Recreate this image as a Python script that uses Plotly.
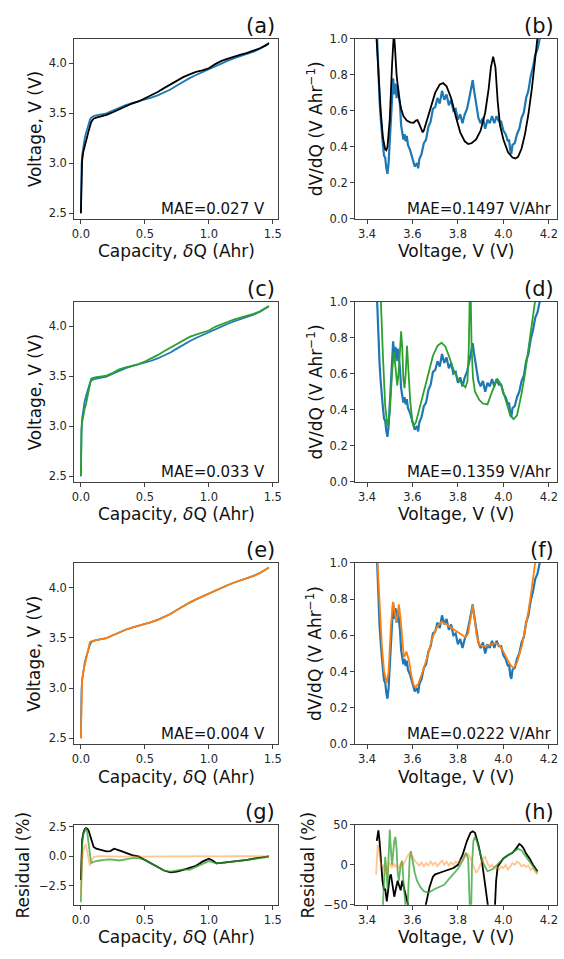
import plotly.graph_objects as go

# ---------------- data ----------------
Q = [0, 0.002, 0.005, 0.01, 0.02, 0.03, 0.04, 0.05, 0.06, 0.07, 0.08, 0.09, 0.10, 0.12, 0.15,
     0.20, 0.25, 0.30, 0.35, 0.40, 0.45, 0.50, 0.55, 0.60, 0.65, 0.70, 0.75, 0.80, 0.85, 0.90,
     0.95, 1.00, 1.05, 1.10, 1.15, 1.20, 1.25, 1.30, 1.35, 1.40, 1.45, 1.47]
V_meas = [2.50, 2.80, 2.98, 3.08, 3.18, 3.25, 3.30, 3.35, 3.39, 3.43, 3.455, 3.465, 3.47, 3.477, 3.485,
          3.497, 3.525, 3.556, 3.58, 3.60, 3.617, 3.635, 3.655, 3.678, 3.705, 3.737, 3.776, 3.816, 3.85, 3.882,
          3.912, 3.941, 3.97, 4.0, 4.025, 4.05, 4.07, 4.09, 4.115, 4.145, 4.18, 4.20]
V_black = [2.50, 2.70, 2.90, 3.03, 3.12, 3.18, 3.22, 3.27, 3.32, 3.37, 3.41, 3.43, 3.445, 3.455, 3.466,
           3.482, 3.509, 3.54, 3.57, 3.596, 3.617, 3.646, 3.677, 3.711, 3.75, 3.787, 3.825, 3.86, 3.888, 3.913,
           3.928, 3.949, 3.99, 4.022, 4.045, 4.068, 4.086, 4.102, 4.123, 4.149, 4.18, 4.20]
V_green = [2.50, 2.82, 2.96, 3.04, 3.12, 3.18, 3.22, 3.29, 3.36, 3.44, 3.475, 3.482, 3.486, 3.49, 3.497,
           3.507, 3.534, 3.568, 3.589, 3.605, 3.622, 3.646, 3.677, 3.711, 3.75, 3.786, 3.821, 3.858, 3.894, 3.917,
           3.935, 3.957, 3.994, 4.022, 4.045, 4.068, 4.086, 4.102, 4.123, 4.149, 4.182, 4.202]
V_orange = [2.50, 2.78, 2.99, 3.09, 3.17, 3.23, 3.27, 3.34, 3.405, 3.455, 3.466, 3.47, 3.472, 3.477, 3.485,
            3.497, 3.525, 3.556, 3.58, 3.60, 3.617, 3.635, 3.655, 3.678, 3.705, 3.737, 3.776, 3.816, 3.85, 3.882,
            3.912, 3.941, 3.97, 4.0, 4.025, 4.05, 4.07, 4.09, 4.115, 4.145, 4.18, 4.20]

# measured dV/dQ (noisy)
dV_meas_x = [3.440, 3.445, 3.450, 3.455, 3.460, 3.465, 3.470, 3.475, 3.480, 3.485, 3.490, 3.495, 3.500,
             3.505, 3.510, 3.515, 3.520, 3.525, 3.530, 3.535, 3.540, 3.545, 3.550, 3.555, 3.560, 3.565,
             3.570, 3.575, 3.580, 3.590, 3.600, 3.610, 3.620, 3.625, 3.630, 3.640, 3.650, 3.660, 3.670,
             3.680, 3.690, 3.700, 3.710, 3.720, 3.730, 3.740, 3.750, 3.760, 3.770, 3.780, 3.790, 3.800,
             3.810, 3.820, 3.830, 3.840, 3.850, 3.855, 3.860, 3.865, 3.870, 3.875, 3.880, 3.890, 3.900,
             3.910, 3.920, 3.930, 3.940, 3.950, 3.960, 3.970, 3.980, 3.990, 4.000, 4.010, 4.020, 4.025,
             4.030, 4.035, 4.040, 4.050, 4.060, 4.070, 4.080, 4.090, 4.100, 4.110, 4.120, 4.130, 4.140,
             4.150, 4.160, 4.170]
dV_meas_y = [1.15, 0.97, 0.81, 0.66, 0.56, 0.46, 0.41, 0.35, 0.34, 0.28, 0.25, 0.31, 0.43,
             0.60, 0.73, 0.78, 0.69, 0.75, 0.67, 0.74, 0.69, 0.63, 0.52, 0.48, 0.44, 0.47,
             0.43, 0.46, 0.41, 0.38, 0.33, 0.29, 0.31, 0.28, 0.33, 0.36, 0.42, 0.44, 0.51,
             0.54, 0.61, 0.62, 0.67, 0.64, 0.71, 0.66, 0.69, 0.63, 0.66, 0.60, 0.61, 0.55,
             0.58, 0.53, 0.58, 0.61, 0.67, 0.70, 0.75, 0.77, 0.72, 0.67, 0.64, 0.56, 0.53,
             0.56, 0.50, 0.55, 0.53, 0.57, 0.53, 0.57, 0.54, 0.54, 0.49, 0.47, 0.43, 0.44,
             0.38, 0.36, 0.41, 0.42, 0.47, 0.50, 0.56, 0.59, 0.67, 0.71, 0.79, 0.84, 0.91,
             0.94, 1.00, 1.06]

dV_black_x = [3.435, 3.443, 3.45, 3.46, 3.47, 3.48, 3.485, 3.49, 3.50, 3.51, 3.515, 3.518, 3.522, 3.53,
              3.54, 3.55, 3.56, 3.575, 3.59, 3.605, 3.615, 3.622, 3.63, 3.64, 3.645, 3.65, 3.66, 3.68,
              3.70, 3.72, 3.735, 3.75, 3.77, 3.79, 3.81, 3.83, 3.845, 3.86, 3.88, 3.90, 3.92, 3.935,
              3.945, 3.955, 3.965, 3.975, 3.985, 4.00, 4.02, 4.04, 4.053, 4.065, 4.08, 4.095, 4.11,
              4.125, 4.14, 4.15, 4.16]
dV_black_y = [1.15, 1.0, 0.82, 0.6, 0.45, 0.385, 0.38, 0.40, 0.55, 0.85, 0.98, 1.03, 0.97, 0.80,
              0.68, 0.61, 0.57, 0.545, 0.535, 0.533, 0.545, 0.548, 0.525, 0.49, 0.48, 0.49, 0.53, 0.62,
              0.70, 0.745, 0.753, 0.735, 0.67, 0.57, 0.48, 0.43, 0.415, 0.42, 0.44, 0.49, 0.59, 0.72,
              0.84, 0.90, 0.84, 0.65, 0.52, 0.44, 0.37, 0.34, 0.335, 0.345, 0.39, 0.47, 0.58,
              0.72, 0.88, 1.0, 1.12]

dV_green_x = [3.455, 3.461, 3.47, 3.48, 3.49, 3.50, 3.51, 3.518, 3.525, 3.533, 3.54, 3.545, 3.55, 3.555,
              3.56, 3.565, 3.57, 3.576, 3.582, 3.59, 3.60, 3.605, 3.615, 3.63, 3.648, 3.67, 3.69, 3.71,
              3.728, 3.745, 3.76, 3.78, 3.80, 3.82, 3.833, 3.842, 3.848, 3.852, 3.856, 3.86, 3.866,
              3.875, 3.894, 3.91, 3.93, 3.95, 3.973, 3.99, 4.01, 4.03, 4.045, 4.06, 4.08, 4.095, 4.11,
              4.125, 4.14, 4.15]
dV_green_y = [1.1, 1.0, 0.7, 0.42, 0.31, 0.38, 0.6, 0.72, 0.64, 0.535, 0.62, 0.75, 0.835, 0.74,
              0.57, 0.52, 0.6, 0.755, 0.62, 0.45, 0.33, 0.31, 0.33, 0.4, 0.5, 0.6, 0.7, 0.755,
              0.772, 0.75, 0.7, 0.625, 0.57, 0.54, 0.525, 0.56, 0.75, 1.05, 1.05, 0.75, 0.58,
              0.5, 0.455, 0.435, 0.43, 0.5, 0.573, 0.54, 0.45, 0.37, 0.348, 0.37, 0.49, 0.6, 0.736,
              0.87, 1.0, 1.1]

dV_orange_x = [3.44, 3.446, 3.455, 3.465, 3.475, 3.487, 3.495, 3.505, 3.514, 3.521, 3.529, 3.535, 3.54,
               3.547, 3.555, 3.562, 3.568, 3.573, 3.578, 3.585, 3.595, 3.605, 3.612, 3.625, 3.645, 3.663,
               3.68, 3.692, 3.71, 3.728, 3.75, 3.778, 3.80, 3.822, 3.833, 3.845, 3.855, 3.865, 3.872,
               3.882, 3.894, 3.91, 3.923, 3.945, 3.966, 3.985, 4.0, 4.02, 4.035, 4.045, 4.06, 4.082,
               4.095, 4.11, 4.125, 4.139, 4.15]
dV_orange_y = [1.15, 1.0, 0.75, 0.55, 0.4, 0.338, 0.4, 0.65, 0.784, 0.72, 0.674, 0.72, 0.77,
               0.7, 0.56, 0.48, 0.49, 0.51, 0.49, 0.46, 0.38, 0.325, 0.314, 0.33, 0.4, 0.47,
               0.55, 0.6, 0.65, 0.674, 0.66, 0.637, 0.615, 0.596, 0.589, 0.61, 0.69, 0.766, 0.71,
               0.6, 0.548, 0.54, 0.54, 0.55, 0.558, 0.54, 0.51, 0.46, 0.43, 0.42, 0.45, 0.545,
               0.63, 0.73, 0.86, 1.0, 1.1]

# residuals of V(Q) (%)
Qr = [0, 0.005, 0.01, 0.02, 0.03, 0.04, 0.05, 0.06, 0.07, 0.08, 0.09, 0.1, 0.12, 0.15, 0.17, 0.2,
      0.23, 0.26, 0.3, 0.35, 0.4, 0.45, 0.5, 0.55, 0.6, 0.65, 0.7, 0.75, 0.8, 0.85, 0.9, 0.95, 1.0,
      1.03, 1.06, 1.1, 1.2, 1.3, 1.4, 1.47]
res_black = [-2.0, 0.5, 1.4, 2.0, 2.3, 2.4, 2.35, 2.2, 1.8, 1.4, 1.0, 0.8, 0.65, 0.55, 0.5, 0.42,
             0.45, 0.65, 0.5, 0.3, 0.1, 0.0, -0.3, -0.6, -0.9, -1.2, -1.35, -1.3, -1.15, -1.0, -0.8,
             -0.45, -0.2, -0.35, -0.6, -0.55, -0.45, -0.3, -0.1, 0.0]
res_green = [-3.9, -0.5, 1.0, 1.9, 2.2, 2.4, 2.0, 1.2, 0.0, -0.6, -0.5, -0.45, -0.4, -0.35, -0.3, -0.28,
             -0.25, -0.3, -0.35, -0.25, -0.15, -0.15, -0.3, -0.6, -0.9, -1.2, -1.3, -1.2, -1.1, -1.15,
             -0.9, -0.6, -0.4, -0.5, -0.6, -0.55, -0.45, -0.3, -0.15, -0.05]
res_orange = [-3.2, -1.5, -0.3, 0.5, 0.9, 1.0, 0.3, -0.4, -0.8, -0.4, -0.15, -0.05, 0.0, 0.05, 0.02, 0.0,
              0.02, 0.0, -0.02, 0.0, 0.02, 0.0, -0.02, 0.0, 0.0, 0.02, 0.0, 0.0, -0.02, 0.0, 0.02, 0.0,
              0.0, 0.02, 0.0, 0.0, 0.02, 0.0, 0.02, 0.0]

# residuals of dV/dQ (%)
rb_x = [3.443, 3.447, 3.45, 3.455, 3.46, 3.468, 3.475, 3.48, 3.487, 3.493, 3.50, 3.505, 3.512, 3.52,
        3.527, 3.535, 3.54, 3.548, 3.555, 3.562, 3.57, 3.58, 3.59, 3.61, 3.63, 3.645, 3.655, 3.665,
        3.675, 3.69, 3.70, 3.72, 3.74, 3.76, 3.78, 3.80, 3.82, 3.84, 3.855, 3.865, 3.875, 3.89,
        3.905, 3.915, 3.925, 3.935, 3.95, 3.96, 3.968, 3.975, 3.99, 4.0, 4.02, 4.04, 4.055, 4.07,
        4.08, 4.09, 4.10, 4.115, 4.13, 4.14, 4.15]
rb_y = [30, 40, 43, 30, 5, -20, -32, -30, -46, -30, -15, -12, -28, -40,
        -30, -20, -25, -32, -20, -28, -35, -48, -60, -85, -85, -60, -55, -40,
        -28, -15, -12, -10, -8, -6, -4, 0, 12, 30, 40, 42, 40, 25,
        5, -15, -35, -60, -90, -70, -20, -2, 5, 8, 12, 15, 20, 26,
        24, 20, 14, 8, 0, -4, -8]
rg_x = [3.465, 3.47, 3.475, 3.48, 3.485, 3.49, 3.495, 3.50, 3.505, 3.51, 3.515, 3.52, 3.525, 3.53,
        3.535, 3.54, 3.548, 3.555, 3.56, 3.567, 3.572, 3.578, 3.583, 3.588, 3.593, 3.60, 3.61, 3.62,
        3.635, 3.65, 3.67, 3.70, 3.72, 3.74, 3.76, 3.78, 3.80, 3.82, 3.835, 3.845, 3.85, 3.853,
        3.858, 3.862, 3.868, 3.875, 3.885, 3.90, 3.915, 3.93, 3.95, 3.97, 3.99, 4.01, 4.03, 4.05,
        4.065, 4.08, 4.095, 4.11, 4.13, 4.15]
rg_y = [-60, -50, -20, 10, -5, -30, 10, 44, 20, 0, 15, 30, 35, 20,
        -10, -20, 0, 5, -20, -40, -60, -55, -10, 10, 17, 5, -10, -20,
        -28, -33, -35, -30, -27, -25, -18, -12, -5, 5, 15, 8, -30, -60,
        -60, 0, 30, 35, 28, 12, 0, -8, -6, 0, 5, 10, 14, 18,
        20, 18, 12, 5, -3, -10]
ro_x = [3.44, 3.443, 3.447, 3.452, 3.458, 3.465, 3.47, 3.478, 3.485, 3.49, 3.497, 3.503, 3.51, 3.517,
        3.525, 3.53, 3.537, 3.545, 3.55, 3.56, 3.57, 3.58, 3.59, 3.60, 3.61, 3.62, 3.63, 3.64, 3.65,
        3.66, 3.67, 3.68, 3.69, 3.70, 3.71, 3.72, 3.73, 3.74, 3.75, 3.76, 3.77, 3.78, 3.79, 3.80,
        3.81, 3.82, 3.83, 3.84, 3.85, 3.86, 3.87, 3.88, 3.89, 3.90, 3.91, 3.92, 3.93, 3.94, 3.95,
        3.96, 3.97, 3.98, 3.99, 4.00, 4.01, 4.02, 4.03, 4.04, 4.05, 4.06, 4.07, 4.08, 4.09, 4.10,
        4.11, 4.12, 4.13, 4.14, 4.15]
ro_y = [-12, 5, 25, 20, 5, -2, 0, -8, -12, -5, 3, 0, -4, 2,
        -3, 0, -5, -2, 3, 0, 6, 12, 15, 10, 5, 2, -1, 3, -2,
        2, -1, 4, 0, 3, -2, 2, 5, 0, 4, -1, 3, 0, 4, 2,
        6, 5, 10, 14, 12, 4, -4, -10, -6, 2, 8, 10, 2, -3, 0,
        -5, -2, -6, -2, -4, 0, -6, -2, 2, 0, 4, 2, -2, 0, -3,
        -1, -6, -4, -9, -12]

panel_labels = ["(a)", "(b)", "(c)", "(d)", "(e)", "(f)", "(g)", "(h)"]
mae_texts = ["MAE=0.027 V", "MAE=0.1497 V/Ahr", "MAE=0.033 V", "MAE=0.1359 V/Ahr",
             "MAE=0.004 V", "MAE=0.0222 V/Ahr", None, None]

# ---------------- styling ----------------
W, H = 564, 959
BLUE, ORANGE, GREEN, BLACK = "#1f77b4", "#ff7f0e", "#2ca02c", "#000000"
GREEN_A = "rgba(44,160,44,0.75)"
ORANGE_A = "rgba(255,127,14,0.45)"
FONT = "DejaVu Sans"
TXT = "#262626"
SPINE = "#404040"

cols = [(73, 279), (357, 561)]
rows = [(32, 215), (299, 482), (564, 748), (830, 911)]

def fx(p):
    return p / W

def fy(p):
    return 1 - p / H

fig = go.Figure()

def add(i, x, y, color, width=1.8):
    ax = "" if i == 0 else str(i + 1)
    fig.add_trace(go.Scatter(x=x, y=y, mode="lines", line=dict(color=color, width=width),
                             xaxis="x" + ax, yaxis="y" + ax, showlegend=False, hoverinfo="skip"))

add(0, Q, V_meas, BLUE); add(0, Q, V_black, BLACK)
add(1, dV_meas_x, dV_meas_y, BLUE, 2.2); add(1, dV_black_x, dV_black_y, BLACK)
add(2, Q, V_meas, BLUE); add(2, Q, V_green, GREEN)
add(3, dV_meas_x, dV_meas_y, BLUE, 2.2); add(3, dV_green_x, dV_green_y, GREEN)
add(4, Q, V_meas, BLUE); add(4, Q, V_orange, ORANGE)
add(5, dV_meas_x, dV_meas_y, BLUE, 2.2); add(5, dV_orange_x, dV_orange_y, ORANGE)
add(6, Qr, res_black, BLACK); add(6, Qr, res_green, GREEN_A); add(6, Qr, res_orange, ORANGE_A)
add(7, rb_x, rb_y, BLACK); add(7, rg_x, rg_y, GREEN_A); add(7, ro_x, ro_y, ORANGE_A)

layout = dict(width=W, height=H, margin=dict(l=0, r=0, t=0, b=0),
              paper_bgcolor="white", plot_bgcolor="white",
              font=dict(family=FONT, color=TXT), showlegend=False)

annotations = []
for i in range(8):
    r, c = divmod(i, 2)
    x0, x1 = cols[c]
    y0, y1 = rows[r]
    ax = "" if i == 0 else str(i + 1)
    common = dict(showline=True, mirror=True, linecolor=SPINE, linewidth=1, ticks="outside",
                  ticklen=4, tickwidth=1, tickcolor=SPINE, showgrid=False, zeroline=False,
                  tickfont=dict(size=11.5, color=TXT, family=FONT))
    if c == 0:
        xa = dict(range=[-0.052, 1.541], tickvals=[0, 0.5, 1.0, 1.5], tickformat=".1f")
    else:
        xa = dict(range=[3.348, 4.236], tickvals=[3.4, 3.6, 3.8, 4.0, 4.2], tickformat=".1f")
    if r < 3:
        if c == 0:
            ya = dict(range=[2.443, 4.246], tickvals=[2.5, 3.0, 3.5, 4.0], tickformat=".1f")
        else:
            ya = dict(range=[0, 1], tickvals=[0, 0.2, 0.4, 0.6, 0.8, 1.0], tickformat=".1f")
    else:
        if c == 0:
            ya = dict(range=[-4.1, 2.67], tickvals=[-2.5, 0, 2.5], tickformat=".1f")
        else:
            ya = dict(range=[-50, 50], tickvals=[-50, 0, 50], tickformat="d")
    xa.update(common); ya.update(common)
    xa.update(domain=[fx(x0), fx(x1)], anchor="y" + ax)
    ya.update(domain=[fy(y1), fy(y0)], anchor="x" + ax)
    layout["xaxis" + ax] = xa
    layout["yaxis" + ax] = ya

    # panel label
    annotations.append(dict(text=panel_labels[i], xref="paper", yref="paper",
                            x=fx(x1 - 1), y=fy(y0 - 13), xanchor="right", yanchor="middle",
                            showarrow=False, font=dict(size=21, color="#111", family=FONT)))
    # MAE
    if mae_texts[i]:
        xr = 268 if c == 0 else 558
        annotations.append(dict(text=mae_texts[i], xref="paper", yref="paper",
                                x=fx(xr), y=fy(y1 - 10), xanchor="right", yanchor="middle",
                                showarrow=False, font=dict(size=15, color="#111", family=FONT)))
    # x title
    xt = "Capacity, <i>δ</i>Q (Ahr)" if c == 0 else "Voltage, V (V)"
    annotations.append(dict(text=xt, xref="paper", yref="paper",
                            x=fx((x0 + x1) / 2), y=fy(y1 + 33), xanchor="center", yanchor="middle",
                            showarrow=False, font=dict(size=17, color="#111", family=FONT)))
    # y title
    if r < 3:
        yt = "Voltage, V (V)" if c == 0 else "dV/dQ (V Ahr<sup>−1</sup>)"
        yx = 33 if c == 0 else 316
    else:
        yt = "Residual (%)"
        yx = 21 if c == 0 else 309
    annotations.append(dict(text=yt, xref="paper", yref="paper", textangle=-90,
                            x=fx(yx), y=fy((y0 + y1) / 2), xanchor="center", yanchor="middle",
                            showarrow=False, font=dict(size=17, color="#111", family=FONT)))

layout["annotations"] = annotations
fig.update_layout(**layout)
fig.write_html("out.html")
